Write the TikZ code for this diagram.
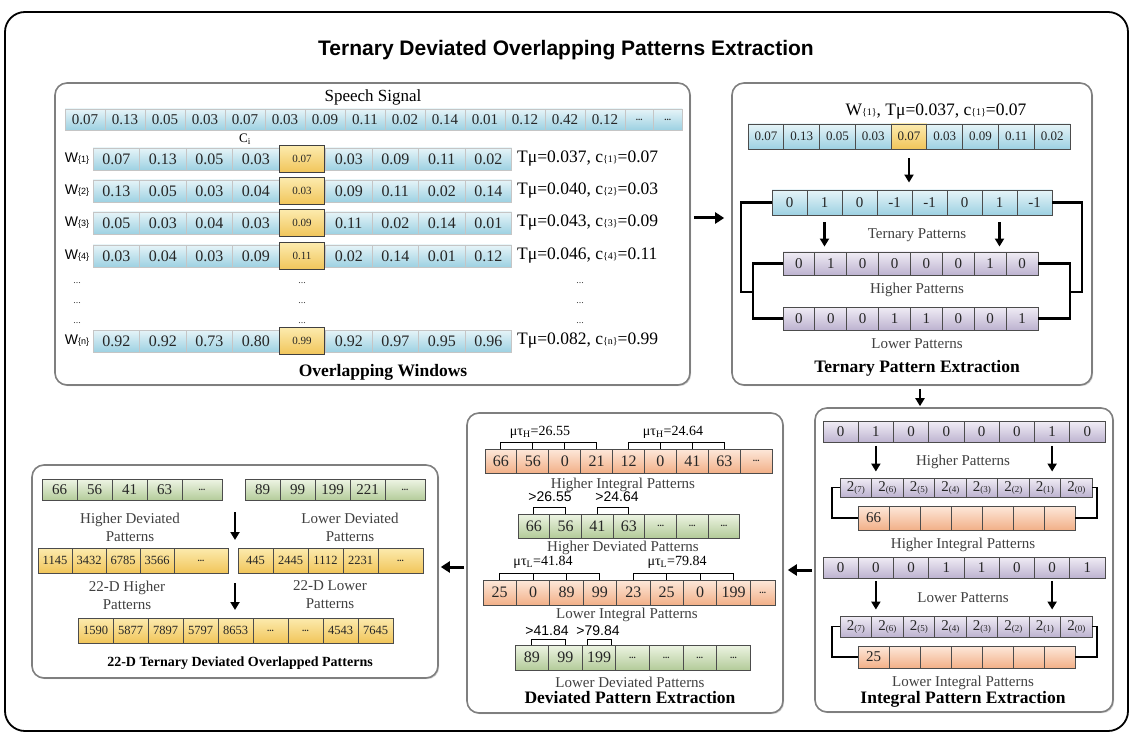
\documentclass[tikz,border=0pt]{standalone}
\usepackage{fontspec}
\setmainfont{Liberation Serif}
\newfontfamily\arialf{Liberation Sans}
\usetikzlibrary{arrows.meta,shadows}

\definecolor{cyanT}{HTML}{E6F4F8}
\definecolor{cyanB}{HTML}{9DD1E2}
\definecolor{ylwT}{HTML}{FCEBAE}
\definecolor{ylwB}{HTML}{F1C55A}
\definecolor{lavT}{HTML}{F0ECF5}
\definecolor{lavB}{HTML}{BDB3D0}
\definecolor{orgT}{HTML}{FDE8DA}
\definecolor{orgB}{HTML}{F2B088}
\definecolor{grnT}{HTML}{EDF4E3}
\definecolor{grnB}{HTML}{B3CB99}
\definecolor{boxgray}{HTML}{7F7F7F}
\definecolor{subgray}{HTML}{404040}

\newcommand{\fs}[1]{\fontsize{#1}{#1}\selectfont}
\newcommand{\dd}{{\fs{9}\textbf{...}}}
\newcommand{\pw}[1]{2\raisebox{-1pt}{\fs{9}(#1)}}
\newcommand{\br}[2][10]{{\fs{#1}\{#2\}}}

% row of equal cells: name, style, left x, centre y, cell width, cell height, values
\newcommand{\cellrow}[7]{%
  \foreach \v [count=\i] in {#7}
    \node[#2, minimum width=#5pt, minimum height=#6pt] (#1\i) at ({#3+(\i-0.5)*#5},#4) {\v};
}

% one overlapping window: name, y, index, values (5th left empty), centre value, mean, centre
\newcommand{\winrow}[7]{%
  \node[wlab] (#1l) at (77,#2) {W\br[9]{#3}};
  \cellrow{#1c}{softcell,font=\fs{16}}{93}{#2}{46.5}{22}{#4}
  \node[hlcell] (#1c5) at (302,#2) {#5};
  \node[tmu] (#1t) at (517,#2) {Tμ=#6, c\br{#3}=#7};
}

\begin{document}
\begin{tikzpicture}[x=1pt,y=-1pt,
  panel/.style={draw=boxgray,line width=1.6pt,rounded corners=12pt,fill=white,
    drop shadow={shadow xshift=1.2pt,shadow yshift=-1.2pt,opacity=0.35}},
  cell/.style={draw=black!70,line width=0.9pt,inner sep=0pt,text=black!85},
  cyancell/.style={cell,top color=cyanT,bottom color=cyanB},
  softcell/.style={cyancell,draw=white!55!boxgray,line width=0.6pt},
  hlcell/.style={cell,draw=black!75,line width=1.8pt,top color=ylwT,bottom color=ylwB,
    minimum width=45pt,minimum height=27pt,font=\fs{11}},
  ylwcell/.style={cell,top color=ylwT,bottom color=ylwB},
  lavcell/.style={cell,top color=lavT,bottom color=lavB},
  orgcell/.style={cell,top color=orgT,bottom color=orgB},
  grncell/.style={cell,top color=grnT,bottom color=grnB},
  wlab/.style={font=\arialf\fs{14},inner sep=0pt},
  tmu/.style={font=\fs{17.5},anchor=west,inner sep=0pt},
  sub/.style={font=\fontsize{15}{18}\selectfont,text=subgray,inner sep=0pt,align=center},
  heading/.style={font=\bfseries\fs{17.5},inner sep=0pt},
  vdots/.style={font=\fs{10},text=subgray,inner sep=0pt},
  bigarr/.style={-{Triangle[width=11pt,length=9pt]},line width=3pt},
  midarr/.style={-{Triangle[width=9pt,length=8pt]},line width=2.5pt},
  link/.style={line width=2.4pt},
  thinlink/.style={line width=1.3pt},
  comb/.style={line width=1pt}]

\useasboundingbox (0,0) rectangle (1132,735);
\draw[line width=1.8pt,rounded corners=20pt] (5,12) rectangle (1128,731);
\node[font=\arialf\bfseries\fs{21}] (title) at (566,50) {Ternary Deviated Overlapping Patterns Extraction};

% panels
\node[panel,minimum width=635pt,minimum height=302pt] (ovl) at (372.5,234) {};
\node[panel,minimum width=360pt,minimum height=302pt] (ter) at (912,234) {};
\node[panel,minimum width=298pt,minimum height=304pt] (intg) at (964,560) {};
\node[panel,minimum width=316pt,minimum height=300pt] (dev) at (625,563) {};
\node[panel,minimum width=406pt,minimum height=213pt] (fin) at (235,571.5) {};

% overlapping windows
\node[font=\fs{17}] (sig) at (373,97) {Speech Signal};
\cellrow{s}{softcell,font=\fs{15}}{65}{119.5}{40}{21}{0.07,0.13,0.05,0.03,0.07,0.03,0.09,0.11,0.02,0.14,0.01,0.12,0.42,0.12}
\node[softcell,minimum width=28.5pt,minimum height=21pt] (s15) at (639.25,119.5) {\dd};
\node[softcell,minimum width=28.5pt,minimum height=21pt] (s16) at (667.75,119.5) {\dd};
\node[font=\fs{13}] (ci) at (245,139) {C\textsubscript{i}};
\winrow{wa}{159}{1}{0.07,0.13,0.05,0.03,{},0.03,0.09,0.11,0.02}{0.07}{0.037}{0.07}
\winrow{wb}{191}{2}{0.13,0.05,0.03,0.04,{},0.09,0.11,0.02,0.14}{0.03}{0.040}{0.03}
\winrow{wc}{223}{3}{0.05,0.03,0.04,0.03,{},0.11,0.02,0.14,0.01}{0.09}{0.043}{0.09}
\winrow{wd}{256}{4}{0.03,0.04,0.03,0.09,{},0.02,0.14,0.01,0.12}{0.11}{0.046}{0.11}
\foreach \y [count=\k] in {283,303,323} {
  \node[vdots] (vl\k) at (77,\y) {...};
  \node[vdots] (vm\k) at (302,\y) {...};
  \node[vdots] (vr\k) at (580,\y) {...};
}
\winrow{wn}{341}{n}{0.92,0.92,0.73,0.80,{},0.92,0.97,0.95,0.96}{0.99}{0.082}{0.99}
\node[heading] (ovlh) at (383,372) {Overlapping Windows};

% ternary patterns
\node[font=\fs{17.5}] (terw) at (936,112) {W\br{1}, Tμ=0.037, c\br{1}=0.07};
\cellrow{t}{cyancell,font=\fs{13}}{748}{136.5}{35.78}{25}{0.07,0.13,0.05,0.03,{},0.03,0.09,0.11,0.02}
\node[ylwcell,font=\fs{13},minimum width=35.78pt,minimum height=25pt] (t5) at (909.01,136.5) {0.07};
\cellrow{tp}{cyancell,font=\fs{15}}{772}{202.5}{35}{25}{0,1,0,-1,-1,0,1,-1}
\draw[midarr,shorten <=9pt,shorten >=7pt] (t5.south) -- (t5.south |- tp1.north);
\node[sub] (terp) at (917,235) {Ternary Patterns};
\cellrow{hp}{lavcell,font=\fs{15}}{783}{263.5}{31.875}{23}{0,1,0,0,0,0,1,0}
\node[sub] (hpl) at (917,290) {Higher Patterns};
\cellrow{lp}{lavcell,font=\fs{15}}{783}{318.5}{31.875}{23}{0,0,0,1,1,0,0,1}
\node[sub] (lpl) at (917,344) {Lower Patterns};
\draw[midarr,shorten <=7pt,shorten >=5pt] (tp2.south) -- (tp2.south |- hp1.north);
\draw[midarr,shorten <=7pt,shorten >=5pt] (tp7.south) -- (tp7.south |- hp1.north);
\coordinate (lo) at (741,292);
\coordinate (li) at (753,292);
\coordinate (ro) at (1082,292);
\coordinate (ri) at (1070,292);
\draw[link] (tp1.west) -| (lo) -- (li);
\draw[link] (hp1.west) -| (li) |- (lp1.west);
\draw[link] (tp8.east) -| (ro) -- (ri);
\draw[link] (hp8.east) -| (ri) |- (lp8.east);
\node[heading] (terh) at (917,368) {Ternary Pattern Extraction};

% integral patterns
\cellrow{ih}{lavcell,font=\fs{15}}{823}{432}{35.25}{21}{0,1,0,0,0,0,1,0}
\node[sub] (ihl) at (963,462) {Higher Patterns};
\cellrow{ip}{lavcell,font=\fs{15}}{840}{487.5}{31.5}{19}{\pw{7},\pw{6},\pw{5},\pw{4},\pw{3},\pw{2},\pw{1},\pw{0}}
\draw[midarr,shorten <=3pt,shorten >=6pt] (ih2.south) -- (ih2.south |- ip1.north);
\draw[midarr,shorten <=3pt,shorten >=6pt] (ih7.south) -- (ih7.south |- ip1.north);
\cellrow{io}{orgcell,font=\fs{15}}{858}{518}{31}{24}{66,{},{},{},{},{},{}}
\coordinate (ibl) at (832,500);
\coordinate (ibr) at (1097,500);
\draw[thinlink] (ip1.west) -| (ibl) |- (io1.west);
\draw[thinlink] (ip8.east) -| (ibr) |- (io7.east);
\node[sub] (iol) at (963,545) {Higher Integral Patterns};
\cellrow{il}{lavcell,font=\fs{15}}{823}{567.5}{35.25}{21}{0,0,0,1,1,0,0,1}
\node[sub] (ill) at (963,598) {Lower Patterns};
\cellrow{iq}{lavcell,font=\fs{15}}{840}{626.5}{31.5}{21}{\pw{7},\pw{6},\pw{5},\pw{4},\pw{3},\pw{2},\pw{1},\pw{0}}
\draw[midarr,shorten <=3pt,shorten >=6pt] (il2.south) -- (il2.south |- iq1.north);
\draw[midarr,shorten <=3pt,shorten >=6pt] (il7.south) -- (il7.south |- iq1.north);
\cellrow{ir}{orgcell,font=\fs{15}}{858}{657}{31}{22}{25,{},{},{},{},{},{}}
\coordinate (jbl) at (832,640);
\coordinate (jbr) at (1097,640);
\draw[thinlink] (iq1.west) -| (jbl) |- (ir1.west);
\draw[thinlink] (iq8.east) -| (jbr) |- (ir7.east);
\node[sub] (irl) at (963,683) {Lower Integral Patterns};
\node[heading] (intgh) at (963,699) {Integral Pattern Extraction};

% deviated patterns
\node[font=\fs{14}] (muh1) at (540,432) {μτ\textsubscript{H}=26.55};
\node[font=\fs{14}] (muh2) at (673,432) {μτ\textsubscript{H}=24.64};
\cellrow{dh}{orgcell,font=\fs{16}}{485}{461}{31.9}{24}{66,56,0,21,12,0,41,63,\dd}
\coordinate (hb) at (0,442);
\draw[comb] (dh1.north) -- (dh1.north |- hb) -- (dh4.north |- hb) -- (dh4.north);
\draw[comb] (dh2.north) -- (dh2.north |- hb) (dh3.north) -- (dh3.north |- hb);
\draw[comb] (dh5.north) -- (dh5.north |- hb) -- (dh8.north |- hb) -- (dh8.north);
\draw[comb] (dh6.north) -- (dh6.north |- hb) (dh7.north) -- (dh7.north |- hb);
\node[sub] (dhl) at (623,485) {Higher Integral Patterns};
\node[font=\arialf\fs{14}] (gh1) at (550,497) {>26.55};
\node[font=\arialf\fs{14}] (gh2) at (617,497) {>24.64};
\cellrow{dg}{grncell,font=\fs{16}}{518}{526}{31.7}{24}{66,56,41,63,\dd,\dd,\dd}
\coordinate (gb) at (0,507);
\draw[comb] (dg1.north) -- (dg1.north |- gb) -- (dg2.north |- gb) -- (dg2.north);
\draw[comb] (dg3.north) -- (dg3.north |- gb) -- (dg4.north |- gb) -- (dg4.north);
\node[sub] (dgl) at (623,548) {Higher Deviated Patterns};
\node[font=\fs{14}] (mul1) at (543,562) {μτ\textsubscript{L}=41.84};
\node[font=\fs{14}] (mul2) at (677,562) {μτ\textsubscript{L}=79.84};
\cellrow{dl}{orgcell,font=\fs{16}}{483}{592.5}{33.4}{25}{25,0,89,99,23,25,0,199}
\node[orgcell,minimum width=25pt,minimum height=25pt] (dl9) at (762.7,592.5) {\dd};
\coordinate (lb) at (0,573);
\draw[comb] (dl1.north) -- (dl1.north |- lb) -- (dl4.north |- lb) -- (dl4.north);
\draw[comb] (dl2.north) -- (dl2.north |- lb) (dl3.north) -- (dl3.north |- lb);
\draw[comb] (dl5.north) -- (dl5.north |- lb) -- (dl8.north |- lb) -- (dl8.north);
\draw[comb] (dl6.north) -- (dl6.north |- lb) (dl7.north) -- (dl7.north |- lb);
\node[sub] (dll) at (627,615) {Lower Integral Patterns};
\node[font=\arialf\fs{14}] (gl1) at (547,631) {>41.84};
\node[font=\arialf\fs{14}] (gl2) at (598,631) {>79.84};
\cellrow{dm}{grncell,font=\fs{16}}{515}{657.5}{33.6}{25}{89,99,199,\dd,\dd,\dd,\dd}
\coordinate (mb) at (0,639);
\coordinate (m3a) at ([xshift=-12pt]dm3.north);
\coordinate (m3b) at ([xshift=12pt]dm3.north);
\draw[comb] (dm1.north) -- (dm1.north |- mb) -- (dm2.north |- mb) -- (dm2.north);
\draw[comb] (m3a) -- (m3a |- mb) -- (m3b |- mb) -- (m3b);
\node[sub] (dml) at (630,682) {Lower Deviated Patterns};
\node[heading] (devh) at (630,698) {Deviated Pattern Extraction};

% final patterns
\cellrow{fa}{grncell,font=\fs{15}}{42}{490}{35}{21}{66,56,41,63}
\node[grncell,minimum width=40pt,minimum height=21pt] (fa5) at (202,490) {\dd};
\cellrow{fb}{grncell,font=\fs{15}}{245}{490}{35}{21}{89,99,199,221}
\node[grncell,minimum width=40pt,minimum height=21pt] (fb5) at (405,490) {\dd};
\node[sub] (fal) at (130,527) {Higher Deviated\\Patterns};
\node[sub] (fbl) at (350,527) {Lower Deviated\\Patterns};
\coordinate (fx1) at (235,512);
\coordinate (fx2) at (235,540);
\draw[midarr] (fx1) -- (fx2);
\cellrow{fc}{ylwcell,font=\fs{12.5}}{38}{560.5}{34}{25}{1145,3432,6785,3566}
\node[ylwcell,minimum width=54pt,minimum height=25pt] (fc5) at (201,560.5) {\dd};
\cellrow{fd}{ylwcell,font=\fs{12.5}}{238}{560.5}{35}{25}{445,2445,1112,2231}
\node[ylwcell,minimum width=45pt,minimum height=25pt] (fd5) at (400.5,560.5) {\dd};
\node[sub] (fcl) at (127,595) {22-D Higher\\Patterns};
\node[sub] (fdl) at (330,595) {22-D Lower\\Patterns};
\coordinate (fx3) at (235,583);
\coordinate (fx4) at (235,610);
\draw[midarr] (fx3) -- (fx4);
\cellrow{fe}{ylwcell,font=\fs{12.5}}{78}{630.5}{35}{25}{1590,5877,7897,5797,8653,\dd,\dd,4543,7645}
\node[font=\bfseries\fs{14}] (finh) at (240,663) {22-D Ternary Deviated Overlapped Patterns};

% flow between panels
\coordinate (a0) at ([yshift=16pt]ovl.east);
\coordinate (a1) at ([xshift=8pt]ter.south);
\coordinate (a2) at ([yshift=-10pt]intg.west);
\coordinate (a3) at ([yshift=-4pt]dev.west);
\draw[bigarr,shorten <=3pt,shorten >=7pt] (a0) -- (a0 -| ter.west);
\draw[midarr,shorten <=3pt,shorten >=1pt] (a1) -- (a1 |- intg.north);
\draw[bigarr,shorten <=2pt,shorten >=4pt] (a2) -- (a2 -| dev.east);
\draw[bigarr,shorten <=2pt,shorten >=2pt] (a3) -- (a3 -| fin.east);
\end{tikzpicture}
\end{document}
